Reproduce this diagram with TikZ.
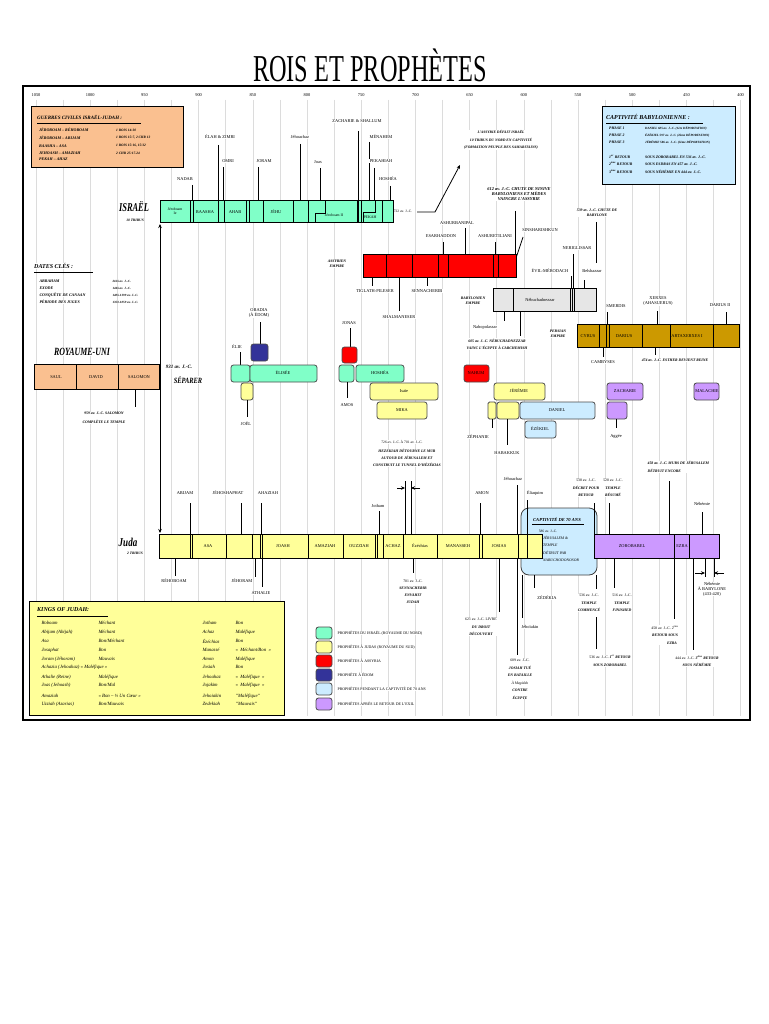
\documentclass[tikz,border=0pt]{standalone}
\usepackage{fontspec}
\setmainfont{Liberation Serif}
\usetikzlibrary{arrows.meta}
\definecolor{isr}{RGB}{128,255,200}
\definecolor{jud}{RGB}{255,255,153}
\definecolor{ass}{RGB}{255,0,0}
\definecolor{edo}{RGB}{51,51,153}
\definecolor{cap}{RGB}{204,236,255}
\definecolor{ret}{RGB}{204,153,255}
\definecolor{uni}{RGB}{250,192,144}
\definecolor{bab}{RGB}{230,230,230}
\definecolor{per}{RGB}{204,153,0}
\definecolor{gridc}{RGB}{220,220,220}
\newcommand\fs{\fontsize{4.4}{5}\selectfont}
\newcommand\fss{\fontsize{3.6}{4.2}\selectfont}
\newcommand\fbi{\fontsize{4}{4.8}\selectfont\bfseries\itshape}
\newcommand\cnd[2]{\scalebox{#1}[1]{#2}}
\newcommand\tk[3]{\draw[ln] (#1,#2) -- (#1,#3);}
\begin{document}
\begin{tikzpicture}[x=1pt,y=-1pt,
 t/.style={font=\fs, inner sep=0.4pt, fill=white},
 tn/.style={font=\fs, inner sep=0.4pt},
 ts/.style={font=\fss, inner sep=0.4pt, fill=white},
 bi/.style={font=\fbi, inner sep=0.4pt, align=center, fill=white},
 big/.style={font=\fontsize{12}{13}\selectfont\bfseries\itshape, inner sep=0.5pt},
 ln/.style={line width=0.8pt, black},
 barbox/.style={draw=black, line width=1pt},
 dv/.style={line width=0.8pt},
 pb/.style={draw=black!70, line width=0.8pt, rounded corners=2.5pt},
 ar/.style={-{Stealth[length=4pt,width=3.5pt]}, line width=0.8pt},
 kj/.style={font=\fontsize{4.8}{5.5}\selectfont\itshape, inner sep=0.3pt, anchor=west}
]
\useasboundingbox (0,0) rectangle (768,1024);
\fill[white] (0,0) rectangle (768,1024);

% title
\node[font=\fontsize{38}{40}\selectfont] (title) at (370,65) {\cnd{0.64}{ROIS ET PROPHÈTES}};

% grid
\foreach \k in {0,...,26} \draw[gridc, line width=0.5pt] ({36+27.1*\k},100) -- ({36+27.1*\k},716);
\foreach \yr [count=\i from 0] in {1050,1000,...,400} \node[tn] (yr\i) at ({36+54.2*\i},95) {\yr};

% ---------- Guerres civiles box
\draw[line width=1pt, fill=uni] (31,107) rectangle (183,168);
\node[font=\fontsize{5}{6}\selectfont\bfseries\itshape, anchor=west, inner sep=0] (gtitle) at (37,117) {GUERRES CIVILES ISRAËL-JUDAH :};
\draw[line width=0.6pt] (37,123) -- (141,123);
\foreach \a/\b/\yy in {JÉROBOAM – RÉHOBOAM/1 ROIS 14:30/130, JÉROBOAM – ABIJAM/{1 ROIS 15:7, 2 CHR 13}/138, BAASHA – ASA/{1 ROIS 15:16, 15:32}/146, JEHOASH – AMAZIAH/2 CHR 25:17-24/153}
 {\node[font=\fbi, anchor=west, inner sep=0] at (39,\yy) {\a};
  \node[font=\fontsize{3.5}{4}\selectfont\bfseries\itshape, anchor=west, inner sep=0] at (116,\yy) {\b};}
\node[font=\fbi, anchor=west, inner sep=0] (g5) at (39,159) {PEKAH – AHAZ};

% ---------- Captivite babylonienne box
\draw[line width=1pt, fill=cap] (602,107) rectangle (735,185);
\node[font=\fontsize{6}{7}\selectfont\bfseries\itshape, anchor=west, inner sep=0] (cbt) at (606,117) {CAPTIVITÉ BABYLONIENNE :};
\draw[line width=0.6pt] (606,123) -- (703,123);
\foreach \a/\b/\yy in {PHASE 1/DANIEL 605 av. J.-C. (1ère DÉPORTATION)/128, PHASE 2/ÉZÉKIEL 597 av. J.-C. (2ème DÉPORTATION)/135, PHASE 3/JÉRÉMIE 586 av. J.-C. (3ème DÉPORTATION)/142}
 {\node[font=\fontsize{3.8}{4.4}\selectfont\bfseries\itshape, anchor=west, inner sep=0] at (609,\yy) {\a};
  \node[font=\fontsize{3.2}{4}\selectfont\bfseries\itshape, anchor=west, inner sep=0] at (645,\yy) {\b};}
\foreach \a/\b/\yy in {1\textsuperscript{er} RETOUR/SOUS ZOROBABEL EN 536 av. J.-C./157, 2\textsuperscript{ème} RETOUR/SOUS ESDRAS EN 457 av. J.-C./164, 3\textsuperscript{ème} RETOUR/SOUS NÉHÉMIE EN 444 av. J.-C./172}
 {\node[font=\fontsize{3.8}{4.4}\selectfont\bfseries\itshape, anchor=west, inner sep=0] at (609,\yy) {\a};
  \node[font=\fontsize{3.8}{4.4}\selectfont\bfseries\itshape, anchor=west, inner sep=0] at (645,\yy) {\b};}

% ---------- Israel labels and ticks
\node[t] (nadab) at (185,179) {NADAB}; \tk{192}{185}{200}
\node[t] (elah) at (220,137) {ÉLAH \& ZIMRI}; \tk{218}{145}{200}
\node[t] (omri) at (228,161) {OMRI}; \tk{223}{167}{200}
\node[t] (joram) at (264,161) {JORAM}; \tk{258}{167}{200}
\node[t] (jehoachazI) at (300,137) {Jéhoachaz}; \tk{300}{144}{200}
\node[t] (joasI) at (318,162) {Joas}; \tk{320}{168}{200}
\node[t] (zach) at (357,121) {ZACHARIE \& SHALLUM}; \tk{358}{131}{200}
\node[t] (menahem) at (381,137) {MÉNAHEM}; \tk{369}{142}{200}
\node[t] (pekahiah) at (381,161) {PEKAHIAH}; \tk{374}{168}{200}
\node[t] (hoshea) at (388,179) {HOSHÉA}; \tk{390}{186}{200}
\node[ts] (d722) at (403,211) {722 av. J.-C.};
\coordinate (a1) at (417,212); \coordinate (a2) at (435,212); \coordinate (a3) at (460,165);
\draw[ar] (a1) -- (a2) -- (a3);
\node[bi, font=\fontsize{3.7}{7.3}\selectfont\bfseries\itshape] (assdef) at (501,140) {L'ASSYRIE DÉFAIT ISRAËL\\10 TRIBUS DU NORD EN CAPTIVITÉ\\(FORMATION PEUPLE DES SAMARITAINS)};

% Israel bar
\draw[barbox, fill=isr] (160,201) rectangle (393,223);
\foreach \x in {190,193,218,224,246,249,263,293,308,357,358,361,382} \draw[dv] (\x,201) -- (\x,223);
\draw[dv] (315,223) -- (315,213) -- (325,213) -- (325,201);
\draw[dv] (363,223) -- (363,212) -- (375,212) -- (375,201);
\node[tn, align=center, font=\fontsize{3.8}{4.2}\selectfont] (jer1) at (175,211) {Jéroboam\\Ie};
\node[tn] (baasha) at (205,212) {BAASHA};
\node[tn] (ahab) at (235,212) {AHAB};
\node[tn] (jehu) at (276,212) {JÉHU};
\node[tn, font=\fontsize{3.8}{4.2}\selectfont] (jer2) at (334,215) {Jéroboam II};
\node[tn, font=\fontsize{3.9}{4.4}\selectfont] (pekah) at (370,217) {PEKAH};
\node[big] (israel) at (134,207) {\cnd{0.7}{ISRAËL}};
\node[ts, font=\fontsize{3.6}{4.2}\selectfont\bfseries\itshape] (tribus10) at (135,220) {10 TRIBUS};

% Assyrian
\node[bi, font=\fontsize{4.4}{5.3}\selectfont\bfseries\itshape] (ttop) at (519,194) {612 av. J.-C. CHUTE DE NINIVE\\BABYLONIENS ET MÈDES\\VAINCRE L'ASSYRIE};
\tk{515}{211}{254}
\node[t] (ashurb) at (457,223) {ASHURBANIPAL}; \tk{465}{228}{254}
\node[t] (esar) at (441,236) {ESARHADDON}; \tk{443}{242}{254}
\node[t] (ashure) at (495,236) {ASHURETILIANI}; \tk{495}{242}{254}
\node[t] (sinshar) at (540,230) {SINSHARISHKUN};
\draw[ln] (523,237) -- (516,258);
\draw[barbox, fill=ass] (363,254) rectangle (516,277);
\foreach \x in {386,412,438,448,493,498} \draw[dv] (\x,254) -- (\x,277);
\node[bi, font=\fontsize{3.8}{4.6}\selectfont\bfseries\itshape] (assemp) at (337,264) {ASSYRIEN\\EMPIRE};
\node[t] (tiglath) at (375,291) {TIGLATH-PILESER}; \tk{372}{277}{286}
\node[t] (senn) at (427,291) {SENNACHERIB}; \tk{427}{277}{286}
\node[t] (shalm) at (399,317) {SHALMANESER}; \tk{399}{277}{311}

% Babylonian
\node[bi, font=\fontsize{3.8}{4.6}\selectfont\bfseries\itshape] (babl) at (597,213) {539 av. J.-C. CHUTE DE\\BABYLONE};
\tk{596}{222}{263}
\node[t] (nerig) at (577,248) {NERIGLISSAR};
\node[t] (evil) at (550,271) {ÉVIL-MÉRODACH};
\node[t] (belsh) at (592,271) {Belshazzar};
\draw[barbox, fill=bab] (493,288) rectangle (596,311);
\foreach \x in {513,570,572,574} \draw[dv] (\x,288) -- (\x,311);
\tk{571}{276}{288} \tk{573}{254}{288} \tk{584}{280}{288}
\node[tn] (nebu) at (540,300) {Nébuchadnezzar};
\node[bi, font=\fontsize{3.8}{4.6}\selectfont\bfseries\itshape] (babemp) at (473,301) {BABYLONIEN\\EMPIRE};
\node[t] (nabop) at (485,327) {Nabopolassar}; \tk{504}{311}{321}
\tk{520}{311}{336}
\node[bi, font=\fontsize{3.8}{7}\selectfont\bfseries\itshape] (n605) at (497,344) {605 av. J.-C. NÉBUCHADNEZZAR\\VAINC L'ÉGYPTE À CARCHEMISH};

% Persian
\node[t] (smerdis) at (616,306) {SMERDIS}; \tk{607}{312}{324}
\node[t, align=center] (xerxes) at (658,301) {XERXES\\(AHASUERUS)}; \tk{657}{311}{324}
\node[t] (darius2) at (720,305) {DARIUS II}; \tk{726}{312}{324}
\draw[barbox, fill=per] (577,324) rectangle (739,347);
\foreach \x in {599,606,609,642,670,713} \draw[dv] (\x,324) -- (\x,347);
\node[tn] (cyrus) at (588,336) {CYRUS};
\node[tn] (darius) at (624,336) {DARIUS};
\node[tn] (artax) at (687,336) {ARTAXERXES I};
\node[bi, font=\fontsize{3.8}{4.6}\selectfont\bfseries\itshape] (peremp) at (558,334) {PERSIAN\\EMPIRE};
\node[t] (camb) at (603,362) {CAMBYSES}; \tk{603}{347}{357}
\node[bi, font=\fontsize{3.8}{4.6}\selectfont\bfseries\itshape] (esther) at (675,360) {474 av. J.-C. ESTHER DEVIENT REINE}; \tk{655}{347}{355}

% Dates cles
\node[font=\fontsize{6}{7}\selectfont\bfseries\itshape, anchor=west, inner sep=0, fill=white] (dcles) at (34,266) {DATES CLÉS :};
\draw[line width=0.6pt] (34,272) -- (93,272);
\foreach \a/\b/\yy in {ABRAHAM/2166 av. J.-C./281, EXODE/1446 av. J.-C./288, CONQUÊTE DE CANAAN/1406-1399 av. J.-C./295, PÉRIODE DES JUGES/1350-1059 av. J.-C./302}
 {\node[font=\fbi, anchor=west, inner sep=0.3pt, fill=white] at (39,\yy) {\a};
  \node[font=\fontsize{3.2}{4}\selectfont\bfseries\itshape, anchor=west, inner sep=0.3pt, fill=white] at (112,\yy) {\b};}

% Royaume-Uni
\node[big, font=\fontsize{11}{12}\selectfont\bfseries\itshape, fill=white] (ru) at (82,352) {\cnd{0.72}{ROYAUME-UNI}};
\draw[barbox, fill=uni] (34,364) rectangle (159,389);
\foreach \x in {76,118} \draw[dv] (\x,364) -- (\x,389);
\node[tn] (saul) at (56,377) {SAUL};
\node[tn] (david) at (96,377) {DAVID};
\node[tn] (salomon) at (139,377) {SALOMON};
\node[bi, font=\fontsize{5}{6}\selectfont\bfseries\itshape] (d931) at (179,367) {931 av. J.-C.};
\node[bi, font=\fontsize{8}{9}\selectfont\bfseries\itshape] (separer) at (188,380) {\cnd{0.8}{SÉPARER}};
\tk{135}{389}{407}
\node[bi, font=\fontsize{3.8}{8.5}\selectfont\bfseries\itshape] (n959) at (104,418) {959 av. J.-C. SALOMON\\COMPLÈTE LE TEMPLE};

% big vertical arrows
\coordinate (vtop) at (160,224); \coordinate (vbot) at (160,533); \coordinate (vmid) at (160,390);
\draw[ar] (vmid) -- (vtop);
\draw[ar] (vmid) -- (vbot);

% ---------- Prophets
\node[t] (elie) at (237,347) {ÉLIE}; \tk{240}{352}{365}
\node[t, align=center] (obadia) at (259,313) {OBADIA\\(À ÉDOM)}; \tk{260}{322}{344}
\draw[pb, fill=edo] (251,344) rectangle (268,361);
\draw[pb, fill=isr] (231,365) rectangle (250,382);
\draw[pb, fill=isr] (250,365) rectangle (317,382);
\node[tn] (elisee) at (283,373) {ÉLISÉE};
\draw[pb, fill=jud] (241,383) rectangle (253,400);
\tk{247}{400}{417}
\node[t] (joel) at (246,424) {JOËL};
\node[t] (jonas) at (349,323) {JONAS}; \tk{350}{328}{347}
\draw[pb, fill=ass] (342,347) rectangle (357,363);
\draw[pb, fill=isr] (339,365) rectangle (354,382);
\tk{347}{382}{398}
\node[t] (amos) at (347,405) {AMOS};
\draw[pb, fill=isr] (356,365) rectangle (404,382);
\node[tn] (hosheaP) at (380,373) {HOSHÉA};
\draw[pb, fill=ass] (464,365) rectangle (489,382);
\node[tn] (nahum) at (476,373) {NAHUM};
\draw[pb, fill=jud] (370,383) rectangle (438,400);
\node[tn] (isaie) at (404,391) {Isaïe};
\draw[pb, fill=jud] (377,402) rectangle (427,419);
\node[tn] (mika) at (402,410) {MIKA};
\draw[pb, fill=jud] (494,383) rectangle (545,400);
\node[tn] (jeremie) at (519,391) {JÉRÉMIE};
\draw[pb, fill=jud, rounded corners=1.5pt] (488,402) rectangle (496,419);
\tk{492}{419}{428}
\node[t] (zeph) at (478,437) {ZÉPHANIE};
\draw[pb, fill=jud] (497,402) rectangle (519,419);
\tk{507}{419}{445}
\node[t] (habak) at (507,453) {HABAKKUK};
\draw[pb, fill=cap] (520,402) rectangle (595,419);
\node[tn] (daniel) at (557,410) {DANIEL};
\draw[pb, fill=cap] (525,421) rectangle (556,438);
\node[tn] (ezekiel) at (540,429) {ÉZÉKIEL};
\draw[pb, fill=ret] (607,383) rectangle (643,400);
\node[tn] (zacharie) at (625,391) {ZACHARIE};
\draw[pb, fill=ret] (607,402) rectangle (627,419);
\tk{616}{419}{428}
\node[t] (aggee) at (616,436) {Aggée};
\draw[pb, fill=ret] (694,383) rectangle (719,400);
\node[tn] (malachie) at (707,391) {MALACHIE};

% Hezekiah note
\node[ts] (n726) at (402,442) {726 av. J.-C. À 701 av. J.-C.};
\node[bi, font=\fontsize{3.8}{7}\selectfont\bfseries\itshape] (hez) at (407,458) {HEZEKIAH DÉTOURNE LE MUR\\AUTOUR DE JÉRUSALEM ET\\CONSTRUIT LE TUNNEL D'HÉZÉKIAS};
\tk{405}{481}{534} \tk{411}{481}{534}
\coordinate (h1) at (397,488); \coordinate (h2) at (405,488);
\coordinate (h3) at (420,488); \coordinate (h4) at (411,488);
\draw[ar] (h1) -- (h2); \draw[ar] (h3) -- (h4);

% ---------- Juda labels above
\node[t] (abijam) at (185,493) {ABIJAM}; \tk{190}{503}{534}
\node[t] (jehosh) at (228,493) {JÉHOSHAPHAT}; \tk{241}{503}{534}
\node[t] (ahaziah) at (268,493) {AHAZIAH}; \tk{261}{503}{534}
\node[t] (jotham) at (378,506) {Jotham}; \tk{379}{511}{534}
\node[t] (amon) at (482,493) {AMON}; \tk{480}{503}{534}
\node[t] (jehoachazJ) at (513,479) {Jéhoachaz};
\node[t] (eliaquim) at (535,493) {Éliaquim};

% captivity box (behind Juda bar)
\draw[draw=black!75, line width=0.8pt, fill=cap, rounded corners=8pt] (521,508) rectangle (597,575);
\node[font=\fontsize{4.6}{5.5}\selectfont\bfseries\itshape, inner sep=0] (capt) at (557,520) {CAPTIVITÉ DE 70 ANS};
\draw[line width=0.5pt] (532,524) -- (584,524);
\node[font=\fss, inner sep=0] (d586) at (548,531) {586 av. J.-C.};
\node[font=\fontsize{3.8}{7.4}\selectfont\itshape, align=left, anchor=north west, inner sep=0] (jerus) at (543,536) {JÉRUSALEM \&\\TEMPLE\\DÉTRUIT PAR\\NABUCHODONOSOR};

\tk{517}{485}{655} \tk{527}{500}{534}

% Juda bar
\draw[barbox, fill=jud] (159,534) rectangle (542,558);
\foreach \x in {190,192,226,252,260,262,308,343,375,377,383,403,437,479,482,518,527} \draw[dv] (\x,534) -- (\x,558);
\node[tn] (asa) at (208,546) {ASA};
\node[tn] (joash) at (283,546) {JOASH};
\node[tn] (amaziah) at (325,546) {AMAZIAH};
\node[tn] (ouzziah) at (359,546) {OUZZIAH};
\node[tn] (achaz) at (393,546) {ACHAZ};
\node[tn] (ezech) at (420,546) {Ézéchias};
\node[tn] (manasseh) at (458,546) {MANASSEH};
\node[tn] (josias) at (499,546) {JOSIAS};
\draw[barbox, fill=ret] (594,534) rectangle (719,558);
\foreach \x in {674,689} \draw[dv] (\x,534) -- (\x,558);
\node[tn] (zorob) at (632,546) {ZOROBABEL};
\node[tn] (ezra) at (682,546) {EZRA};
\node[big, font=\fontsize{12}{13}\selectfont\bfseries\itshape] (juda) at (128,542) {\cnd{0.75}{Juda}};
\node[ts, font=\fontsize{3.6}{4.2}\selectfont\bfseries\itshape] (tribus2) at (135,553) {2 TRIBUS};

% Right side above bar
\node[bi, font=\fontsize{3.8}{7.5}\selectfont\bfseries\itshape] (n538) at (586,488) {{\mdseries\upshape 538 av. J.-C.}\\DÉCRET POUR\\RETOUR}; \tk{594}{503}{534}
\node[bi, font=\fontsize{3.8}{7.5}\selectfont\bfseries\itshape] (n520) at (613,488) {{\mdseries\upshape 520 av. J.-C.}\\TEMPLE\\RÉSUMÉ}; \tk{609}{503}{534}
\node[bi, font=\fontsize{3.8}{7.5}\selectfont\bfseries\itshape, align=left, anchor=west] (n458a) at (647,467) {458 av. J.-C. MURS DE JÉRUSALEM\\DÉTRUIT ENCORE}; \tk{669}{481}{534}
\node[t] (nehemie) at (702,504) {Néhémie}; \tk{702}{512}{534}

% Below Juda bar
\node[t] (rehob) at (174,581) {RÉHOBOAM}; \tk{175}{558}{576}
\node[t] (jehoram) at (242,581) {JÉHORAM}; \tk{255}{558}{577}
\node[t] (athalie) at (261,593) {ATHALIE}; \tk{262}{558}{587}
\tk{413}{558}{573}
\node[bi, font=\fontsize{3.8}{7}\selectfont\bfseries\itshape] (n701) at (413,592) {{\mdseries\upshape 701 av. J.-C.}\\SENNACHERIB\\ENVAHIT\\JUDAH};
\tk{499}{558}{612}
\node[bi, font=\fontsize{3.8}{7.5}\selectfont\bfseries\itshape] (n621) at (481,627) {{\mdseries\upshape 621 av. J.-C. LIVRE}\\DU DROIT\\DÉCOUVERT};
\node[bi, font=\fontsize{3.8}{7.5}\selectfont\bfseries\itshape] (n609) at (520,679) {{\mdseries\upshape 609 av. J.-C.}\\JOSIAH TUÉ\\EN BATAILLE\\{\mdseries À Megiddo}\\CONTRE\\ÉGYPTE};
\tk{522}{575}{618}
\node[t] (jehoiakin) at (530,627) {Jéhoïakin};
\tk{534}{575}{588}
\node[t] (zedekia) at (547,598) {ZÉDÉKIA};
\tk{596}{575}{589}
\node[bi, font=\fontsize{3.8}{7.5}\selectfont\bfseries\itshape] (n536a) at (589,603) {{\mdseries\upshape 536 av. J.-C.}\\TEMPLE\\COMMENCÉ};
\tk{596}{617}{649}
\node[bi, font=\fontsize{3.8}{7.5}\selectfont\bfseries\itshape] (n536b) at (610,661) {{\mdseries\upshape 536 av. J.-C.} 1\textsuperscript{er} RETOUR\\SOUS ZOROBABEL};
\tk{614}{558}{588}
\node[bi, font=\fontsize{3.8}{7.5}\selectfont\bfseries\itshape] (n516) at (622,603) {{\mdseries\upshape 516 av. J.-C.}\\TEMPLE\\FINISHED};
\tk{674}{558}{619}
\node[bi, font=\fontsize{3.8}{7.5}\selectfont\bfseries\itshape] (n458b) at (665,635) {{\mdseries\upshape 458 av. J.-C. 2\textsuperscript{ème}}\\RETOUR SOUS\\\hspace*{14pt}EZRA};
\tk{693}{558}{650}
\node[bi, font=\fontsize{3.8}{7.5}\selectfont\bfseries\itshape] (n444) at (697,661) {{\mdseries\upshape 444 av. J.-C.} 3\textsuperscript{ème} RETOUR\\SOUS NÉHÉMIE};
\tk{705}{558}{577} \tk{714}{558}{577}
\coordinate (b1) at (695,573); \coordinate (b2) at (705,573);
\coordinate (b3) at (724,573); \coordinate (b4) at (714,573);
\draw[ar] (b1) -- (b2); \draw[ar] (b3) -- (b4);
\node[t, align=center] (nehbab) at (712,589) {Néhémie\\À BABYLONE\\(433-420)};

% ---------- Kings of Judah box
\draw[line width=1pt, fill=jud] (29,601) rectangle (284,715);
\node[font=\fontsize{6}{7}\selectfont\bfseries\itshape, anchor=west, inner sep=0] (kjt) at (37,610) {KINGS OF JUDAH:};
\draw[line width=0.6pt] (37,616) -- (108,616);
\foreach \a/\b/\yy in {Roboam/Méchant/623, Abijam (Abijah)/Méchant/632, Asa/{Bon/Méchant}/641, Josaphat/Bon/650, Joram (Jéhoram)/Mauvais/659, Athalie (Reine)/Maléfique/677, Joas (Jehoash)/{Bon/Mal}/685, Amaziah/{« Bon – ½ Un Cœur »}/696, Uzziah (Azarias)/{Bon/Mauvais}/704}
 {\node[kj] at (41,\yy) {\a}; \node[kj] at (98,\yy) {\b};}
\node[kj] (ach) at (41,667) {Achazia (Jehoahaz) « Maléfique »};
\foreach \a/\b/\yy in {Jotham/Bon/623, Achaz/Maléfique/632, Ézéchias/Bon/641, Manassé/{«\ \ Méchant/Bon\ \ »}/650, Amon/Maléfique/659, Josiah/Bon/667, Jehoahaz/{«\ \ Maléfique\ \ »}/677, Jojakim/{«\ \ Maléfique\ \ »}/685, Jehoiakin/{"Maléfique"}/696, Zedekiah/{"Mauvais"}/704}
 {\node[kj] at (202,\yy) {\a}; \node[kj] at (235,\yy) {\b};}

% ---------- Legend
\foreach \c/\txt/\yy in {isr/PROPHÈTES DU ISRAËL (ROYAUME DU NORD)/633, jud/PROPHÈTES À JUDAS (ROYAUME DU SUD)/647, ass/PROPHÈTES À ASSYRIA/661, edo/PROPHÈTE À ÉDOM/675, cap/PROPHÈTES PENDANT LA CAPTIVITÉ DE 70 ANS/689, ret/PROPHÈTES APRÈS LE RETOUR DE L'EXIL/704}
 {\draw[pb, fill=\c] (316,\yy-6) rectangle (332,\yy+6);
  \node[font=\fontsize{3.9}{4.5}\selectfont, anchor=west, inner sep=0.4pt, fill=white] at (337,\yy) {\txt};}

% frame
\draw[line width=2pt] (23,86) rectangle (750,720);
\end{tikzpicture}
\end{document}
